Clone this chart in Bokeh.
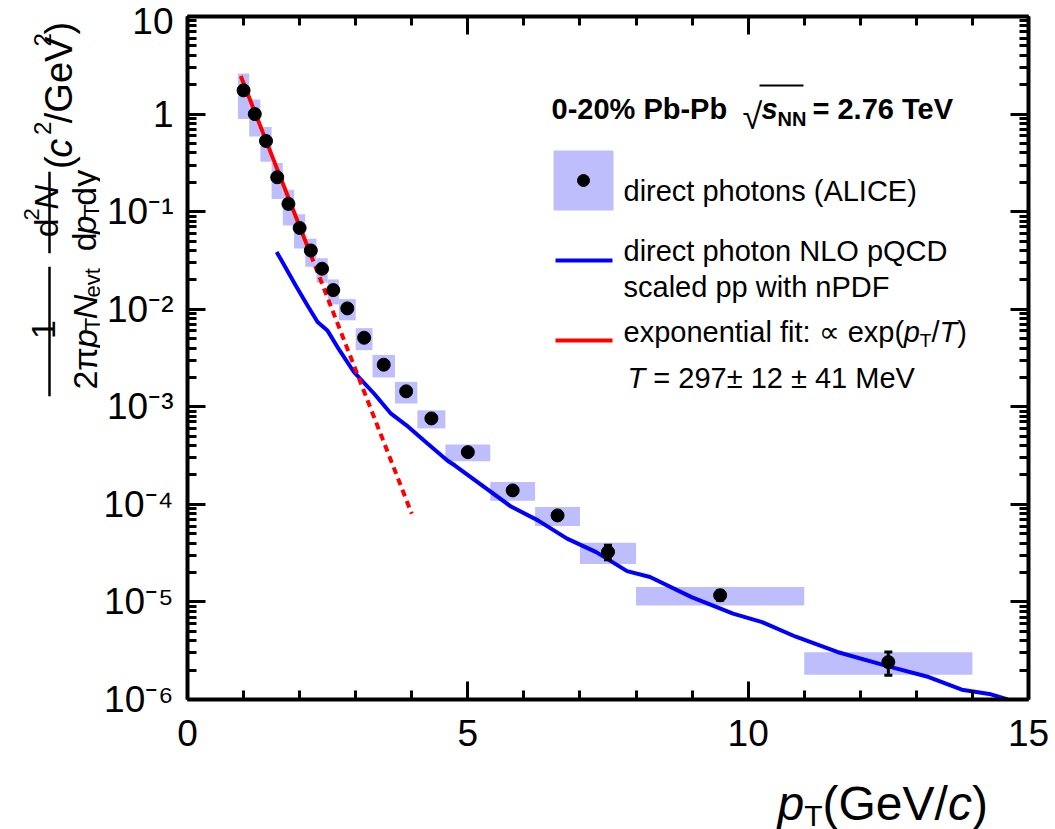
import math
from bokeh.plotting import figure
from bokeh.layouts import column, row
from bokeh.models import FixedTicker, LinearAxis, LogAxis, Label, Range1d, BasicTickFormatter
from bokeh.embed import file_html
from bokeh.resources import INLINE

# ---------------- data ----------------
pt = [1.0, 1.2, 1.4, 1.6, 1.8, 2.0, 2.2, 2.4, 2.6, 2.85, 3.15, 3.5, 3.9, 4.35,
      5.0, 5.8, 6.6, 7.5, 9.5, 12.5]
pt_low = [0.9, 1.1, 1.3, 1.5, 1.7, 1.9, 2.1, 2.3, 2.5, 2.7, 3.0, 3.3, 3.7, 4.1,
          4.6, 5.4, 6.2, 7.0, 8.0, 11.0]
pt_high = [1.1, 1.3, 1.5, 1.7, 1.9, 2.1, 2.3, 2.5, 2.7, 3.0, 3.3, 3.7, 4.1, 4.6,
           5.4, 6.2, 7.0, 8.0, 11.0, 14.0]
yield_vals = [1.75, 1.0, 0.53, 0.225, 0.12, 0.068, 0.040, 0.026, 0.0157, 0.0102,
              0.0051, 0.0027, 0.00144, 7.6e-4, 3.43e-4, 1.39e-4, 7.7e-5, 3.25e-5,
              1.17e-5, 2.42e-6]
sys_err = [0.86, 0.41, 0.205, 0.09, 0.048, 0.026, 0.0128, 0.0073, 0.0045, 0.0025,
           0.0013, 0.0007, 0.00036, 0.00016, 6.7e-5, 3.0e-5, 1.7e-5, 0.8e-5,
           0.25e-5, 0.63e-6]
stat_err = [0.09, 0.05, 0.025, 0.011, 0.006, 0.0035, 0.002, 0.0013, 0.0008, 0.0005,
            0.00026, 0.00014, 0.00008, 0.00004, 2.0e-5, 0.9e-5, 0.5e-5, 0.55e-5,
            0.13e-5, 0.65e-6]

nlo_pt = [1.59, 1.67, 1.93, 2.14, 2.32, 2.50, 2.71, 2.97, 3.33, 3.63, 3.9, 4.28,
          4.64, 4.77, 5.77, 6.25, 6.77, 7.29, 7.84, 8.25, 8.99, 9.73, 10.25, 10.85,
          11.59, 12.55, 13.22, 13.81, 14.33, 14.63]
nlo_y = [3.85e-2, 3.21e-2, 1.75e-2, 1.09e-2, 7.4e-3, 6.0e-3, 3.8e-3, 2.26e-3,
         1.36e-3, 8.5e-4, 6.5e-4, 4.2e-4, 2.8e-4, 2.5e-4, 9.5e-5, 6.85e-5, 4.45e-5,
         3.24e-5, 2.07e-5, 1.8e-5, 1.12e-5, 7.6e-6, 6.2e-6, 4.4e-6, 3.07e-6, 2.15e-6,
         1.7e-6, 1.26e-6, 1.13e-6, 1.0e-6]

fit_solid_pt = [0.95, 2.2]
fit_solid_y = [2.45, 0.036]
fit_dash_pt = [2.2, 4.0]
fit_dash_y = [0.036, 8.0e-5]

x_major = [0, 5, 10, 15]
x_minor = list(range(0, 16))
y_major = [1e-6, 1e-5, 1e-4, 1e-3, 1e-2, 1e-1, 1, 10]
y_tick_labels = ["10\u207b\u2076", "10\u207b\u2075", "10\u207b\u2074", "10\u207b\u00b3",
                 "10\u207b\u00b2", "10\u207b\u00b9", "1", "10"]
y_minor = [m * 10.0 ** e for e in range(-6, 1) for m in range(1, 11)]

# ---------------- layout ----------------
W, H = 1055, 829
LW = 100           # strip on the left holding the y-axis title
BH = 59            # strip at the bottom holding the x-axis title
MH = H - BH
FL, FT, FR = 187, 16, 27
FBOT = 699         # frame bottom (absolute px)
FW, FH = W - FL - FR, FBOT - FT
X0, X1 = 0.0, 15.0
LY0, LY1 = -6.0, 1.0
FONT = "Liberation Sans"
BOX = "#bebefc"
BLUE = "#0000ff"
RED = "#ff0000"


def dx(px):
    return X0 + (px - FL) / FW * (X1 - X0)


def dy(py):
    return 10 ** (LY1 - (py - FT) / FH * (LY1 - LY0))


def ident(v):
    return v


p = figure(width=W - LW, height=MH, x_range=Range1d(X0, X1),
           y_range=Range1d(10 ** LY0, 10 ** LY1), y_axis_type="log",
           output_backend="svg", toolbar_location=None, title=None,
           min_border_left=FL - LW, min_border_top=FT, min_border_right=FR,
           min_border_bottom=MH - FBOT)
p.outline_line_color = None
p.xgrid.visible = False
p.ygrid.visible = False
p.background_fill_color = "white"
p.border_fill_color = "white"


def style_axis(ax, show_labels, standoff):
    ax.axis_line_width = 4
    ax.axis_line_color = "black"
    ax.major_tick_in = 18
    ax.major_tick_out = 0
    ax.minor_tick_in = 9
    ax.minor_tick_out = 0
    ax.major_tick_line_width = 3
    ax.minor_tick_line_width = 3
    ax.major_label_text_font = FONT
    ax.major_label_text_color = "black"
    ax.major_label_text_font_size = "37px" if show_labels else "2px"
    ax.major_label_standoff = standoff


xa = p.xaxis[0]
xa.ticker = FixedTicker(ticks=x_major, minor_ticks=x_minor)
style_axis(xa, True, 20)
ya = p.yaxis[0]
ya.ticker = FixedTicker(ticks=y_major, minor_ticks=y_minor)
ya.formatter = BasicTickFormatter()
ya.major_label_overrides = {v: s for v, s in zip(y_major, y_tick_labels)}
style_axis(ya, True, 14)

top_ax = LinearAxis(ticker=FixedTicker(ticks=x_major, minor_ticks=x_minor))
style_axis(top_ax, False, 0)
top_ax.major_label_overrides = {v: "" for v in x_major}
p.add_layout(top_ax, "above")
right_ax = LogAxis(ticker=FixedTicker(ticks=y_major, minor_ticks=y_minor))
style_axis(right_ax, False, 0)
right_ax.formatter = BasicTickFormatter()
right_ax.major_label_overrides = {v: "" for v in y_major}
p.add_layout(right_ax, "right")

# ---------------- data marks ----------------
box_top = [y + s for y, s in zip(yield_vals, sys_err)]
box_bot = [y - s for y, s in zip(yield_vals, sys_err)]
p.quad(left=pt_low, right=pt_high, top=box_top, bottom=box_bot,
       fill_color=BOX, line_color=None)

p.line(nlo_pt, nlo_y, line_color=BLUE, line_width=4)
p.line(fit_solid_pt, fit_solid_y, line_color=RED, line_width=4)
p.line(fit_dash_pt, fit_dash_y, line_color=RED, line_width=4, line_dash="7 5")

st_top = [y + s for y, s in zip(yield_vals, stat_err)]
st_bot = [y - s for y, s in zip(yield_vals, stat_err)]
p.segment(x0=pt, y0=st_bot, x1=pt, y1=st_top, line_color="black", line_width=3)
p.scatter(pt + pt, st_top + st_bot, marker="dash", size=8, line_width=3, line_color="black")
p.scatter(pt, yield_vals, size=13, fill_color="black", line_color="black")


# ---------------- side strips for the axis titles ----------------
def strip(w, h, y_top):
    f = figure(width=w, height=h, x_range=Range1d(0, w), y_range=Range1d(y_top + h, y_top),
               output_backend="svg", toolbar_location=None, title=None,
               x_axis_location=None, y_axis_location=None, min_border=0)
    f.outline_line_color = None
    f.xgrid.visible = False
    f.ygrid.visible = False
    return f


left = strip(LW, MH, 0)
bottom = strip(W, BH, MH)

# ---------------- text helpers ----------------
CW = {' ': 278, '(': 333, ')': 333, '/': 278, '-': 333, '.': 278, ':': 278, '%': 889,
      '=': 584, '\u00b1': 584, '\u221d': 713, '\u221a': 549, '\u03c0': 549,
      'a': 556, 'b': 556, 'c': 500, 'd': 556, 'e': 556, 'f': 278, 'h': 556, 'i': 222,
      'l': 222, 'n': 556, 'o': 556, 'p': 556, 'r': 333, 's': 500, 't': 278, 'v': 500,
      'w': 722, 'x': 500, 'y': 500, 'A': 667, 'C': 722, 'D': 722, 'E': 667, 'F': 611,
      'G': 778, 'I': 278, 'L': 556, 'M': 833, 'N': 722, 'O': 778, 'P': 667, 'Q': 778,
      'T': 611, 'V': 667}
CWB = {'b': 611, 's': 556}


def tw(text, size, bold=False):
    tot = 0
    for ch in text:
        w = CW.get(ch, 556)
        if bold and ch in CWB:
            w = CWB[ch]
        tot += w
    return tot * size / 1000.0


def run(fig, fx, fy, px, py, pieces, angle=0.0, center=False):
    total = sum(tw(t, s, 'bold' in st) for t, s, st, sh in pieces)
    pos = -total / 2 if center else 0.0
    for t, s, st, sh in pieces:
        bold = 'bold' in st
        stripped = t.lstrip(' ')
        pos += tw(t[:len(t) - len(stripped)], s, bold)
        if angle == 0:
            x, y = px + pos, py + sh
        else:
            x, y = px + sh, py - pos
        fig.add_layout(Label(x=fx(x), y=fy(y), text=stripped, text_font=FONT,
                             text_font_size=f"{s}px", text_font_style=st,
                             text_align="left", text_baseline="alphabetic",
                             angle=angle, text_color="black"))
        pos += tw(stripped, s, bold)


R = math.pi / 2
# y axis title (left strip, absolute pixel coordinates)
run(left, ident, ident, 43, 354, [("1", 34, "normal", 0)], R, center=True)
left.segment(x0=[49], y0=[282], x1=[49], y1=[428], line_width=2.5, line_color="black")
run(left, ident, ident, 84, 354, [("2\u03c0", 34, "normal", 0), (" p", 34, "italic", 0),
                                   ("T", 22, "normal", 8), ("N", 34, "italic", 0),
                                   ("evt", 22, "normal", 8)], R, center=True)
run(left, ident, ident, 45, 221, [("d", 34, "normal", 0), ("2", 22, "normal", -14),
                                   ("N", 34, "italic", 0)], R, center=True)
left.segment(x0=[49], y0=[175], x1=[49], y1=[267], line_width=2.5, line_color="black")
run(left, ident, ident, 83, 221, [("d", 34, "normal", 0), ("p", 34, "italic", 0),
                                   ("T", 22, "normal", 8), ("dy", 34, "normal", 0)],
    R, center=True)
run(left, ident, ident, 58, 172, [("(", 38, "normal", 0), ("c", 38, "italic", 0),
                                   (" 2", 24, "normal", -16), ("/GeV", 38, "normal", 0),
                                   ("2", 24, "normal", -16), (")", 38, "normal", 0)], R)

# x axis title (bottom strip)
run(bottom, ident, ident, 777, 803, [("p", 48, "italic", 0), ("T", 30, "normal", 12),
                                      ("(GeV/", 48, "normal", 0), ("c", 48, "italic", 0),
                                      (")", 48, "normal", 0)])

# header (inside the frame)
run(p, dx, dy, 551, 108, [("0-20% Pb-Pb", 29, "bold", 0)])
run(p, dx, dy, 742, 116, [("\u221a", 36, "normal", 0)])
run(p, dx, dy, 761, 108, [("s", 29, "bold italic", 0), ("NN", 20, "bold", 10)])
p.segment(x0=[dx(759)], y0=[dy(85)], x1=[dx(803)], y1=[dy(85)], line_width=2, line_color="black")
run(p, dx, dy, 812, 108, [("= 2.76 TeV", 29, "bold", 0)])

# legend
p.quad(left=[dx(553)], right=[dx(613)], top=[dy(150)], bottom=[dy(210)],
       fill_color=BOX, line_color=None)
p.scatter([dx(583)], [dy(180)], size=12, fill_color="black", line_color="black")
p.line([dx(555), dx(612)], [dy(260), dy(260)], line_color=BLUE, line_width=4)
p.line([dx(555), dx(612)], [dy(340), dy(340)], line_color=RED, line_width=4)
run(p, dx, dy, 623, 190, [("direct photons (ALICE)", 29, "normal", 0)])
run(p, dx, dy, 623, 250, [("direct photon NLO pQCD", 29, "normal", 0)])
run(p, dx, dy, 623, 286, [("scaled pp with nPDF", 29, "normal", 0)])
run(p, dx, dy, 623, 331, [("exponential fit: \u221d exp(", 29, "normal", 0), ("p", 29, "italic", 0),
                          ("T", 19, "normal", 9), ("/", 29, "normal", 0), ("T", 29, "italic", 0),
                          (")", 29, "normal", 0)])
run(p, dx, dy, 627, 377, [("T", 29, "italic", 0), (" = 297\u00b1 12 \u00b1 41 MeV", 29, "normal", 0)])

page = column(row(left, p, spacing=0), bottom, spacing=0)
open("out.html", "w").write(file_html(page, INLINE))
